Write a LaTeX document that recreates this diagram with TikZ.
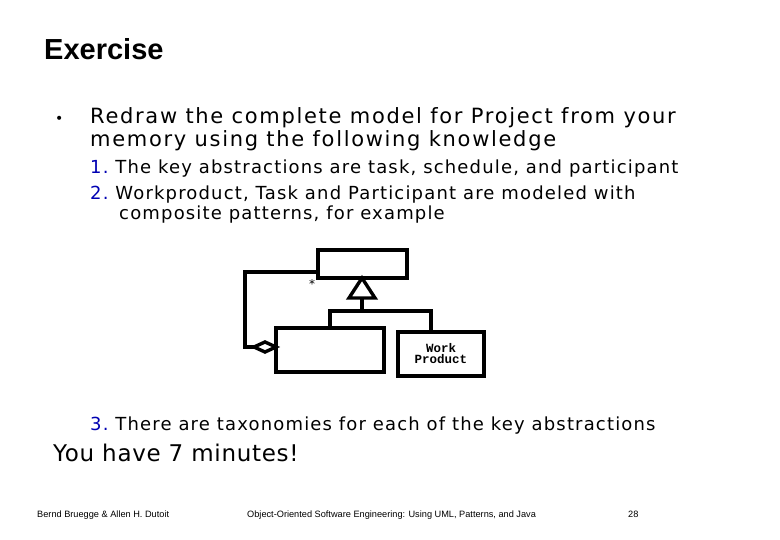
\documentclass[tikz,border=0pt]{standalone}
\usepackage{fontspec}
\setmainfont{DejaVu Sans}
\newfontfamily\titlefont{Liberation Sans}
\newfontfamily\wpfont{Liberation Mono}
\newfontfamily\footfont{Liberation Sans}
\newfontfamily\bodyfont[LetterSpace=8]{DejaVu Sans}
\newfontfamily\subfont[LetterSpace=6.5]{DejaVu Sans}
\newfontfamily\minfont[LetterSpace=3]{DejaVu Sans}
\tikzset{
  txt/.style={anchor=base west, inner sep=0pt},
  umlbox/.style={draw, line width=3.4pt, inner sep=0pt},
  umlline/.style={line width=3.4pt},
}
\begin{document}
\begin{tikzpicture}[x=1pt,y=-1pt]
  \useasboundingbox (0,0) rectangle (780,540);
  % title and text
  \node[txt] (title) at (44,60) {\titlefont\bfseries\fontsize{29}{32}\selectfont Exercise};
  \node[txt] (bullet) at (55,124) {\fontsize{14}{16}\selectfont •};
  \node[txt] (l1) at (90,124) {\bodyfont\fontsize{21}{24}\selectfont Redraw the complete model for Project from your};
  \node[txt] (l2) at (90,147) {\bodyfont\fontsize{21}{24}\selectfont memory using the following knowledge};
  \node[txt] (n1) at (90,174) {\subfont\fontsize{18}{20}\selectfont \textcolor{blue!70!black}{1.}\ The key abstractions are task, schedule, and participant};
  \node[txt] (n2) at (90,200) {\subfont\fontsize{18}{20}\selectfont \textcolor{blue!70!black}{2.}\ Workproduct, Task and Participant are modeled with};
  \node[txt] (n2b) at (119,220) {\subfont\fontsize{18}{20}\selectfont composite patterns, for example};
  \node[txt] (n3) at (90,430) {\subfont\fontsize{18}{20}\selectfont \textcolor{blue!70!black}{3.}\ There are taxonomies for each of the key abstractions};
  \node[txt] (min) at (53,461) {\minfont\fontsize{23}{26}\selectfont You have 7 minutes!};
  % footer
  \node[txt] (f1) at (37,517) {\footfont\fontsize{9.2}{10}\selectfont Bernd Bruegge \& Allen H. Dutoit};
  \node[txt] (f2) at (247,517) {\footfont\fontsize{9.2}{10}\selectfont Object-Oriented Software Engineering: Using UML, Patterns, and Java};
  \node[txt] (f3) at (628,517) {\footfont\fontsize{9.2}{10}\selectfont 28};
  % composite pattern
  \draw[umlbox] (318,250) rectangle (407,278);
  \draw[umlbox] (276,328) rectangle (384,372);
  \draw[umlbox] (398,332) rectangle (484,376);
  \node (wp) at (441,355) {\wpfont\bfseries\fontsize{12.5}{14}\selectfont\begin{tabular}{c}Work\\[-3pt]Product\end{tabular}};
  \draw[umlline, fill=white] (362,278) -- (375,298) -- (349,298) -- cycle;
  \draw[umlline] (362,298) -- (362,311);
  \draw[umlline] (330,328) -- (330,311) -- (431,311) -- (431,332);
  \draw[umlline] (318,272) -- (245,272) -- (245,347) -- (254,347);
  \draw[umlline, fill=white] (254,347) -- (265,342) -- (276,347) -- (265,352) -- cycle;
  \node (star) at (312,284) {\fontsize{12}{12}\selectfont *};
\end{tikzpicture}
\end{document}
